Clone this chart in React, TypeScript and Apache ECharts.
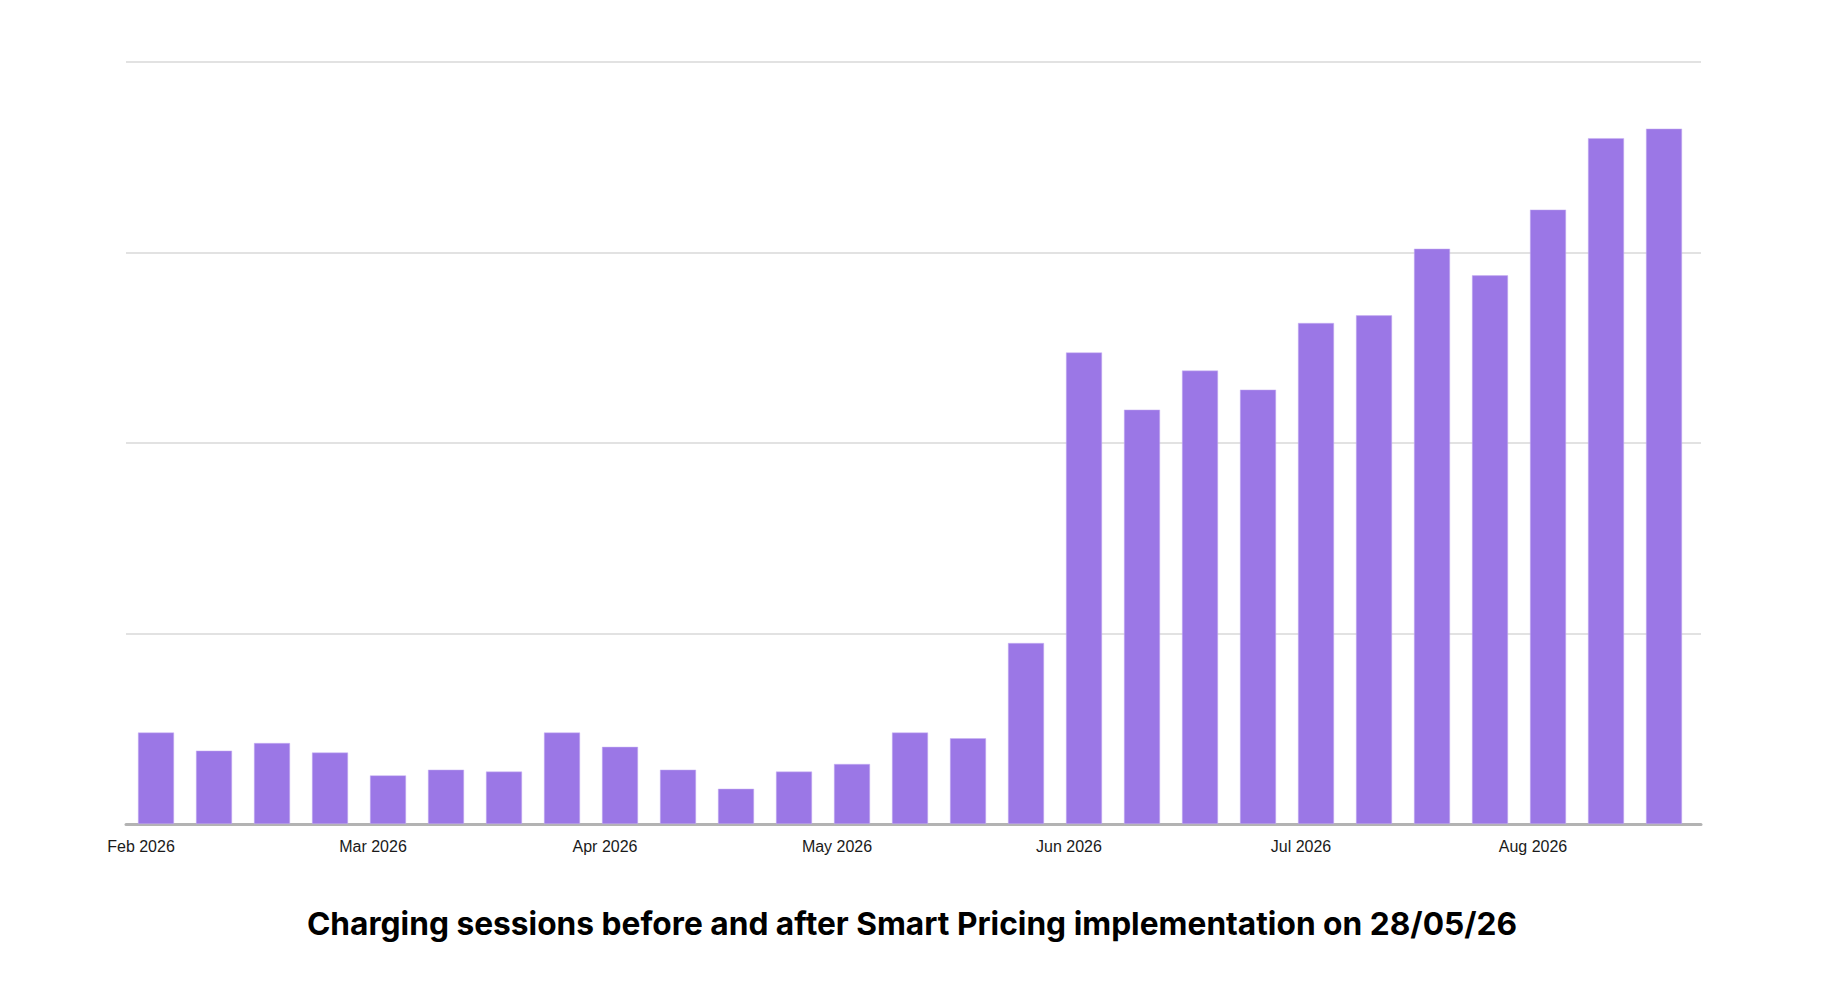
import React, { useEffect, useRef } from "react";
import * as echarts from "echarts";

const weeks = [
  "W01", "W02", "W03", "W04", "W05", "W06", "W07", "W08", "W09",
  "W10", "W11", "W12", "W13", "W14", "W15", "W16", "W17", "W18",
  "W19", "W20", "W21", "W22", "W23", "W24", "W25", "W26", "W27",
];

const sessions = [
  48, 38.5, 42.5, 37.5, 25.5, 28.5, 27.5, 48, 40.5, 28.5, 18.5, 27.5, 31.5, 48,
  45, 95, 247.5, 217.5, 238, 228, 263, 267, 302, 288, 322.5, 360, 365,
];

const monthLabels = ["Feb 2026", "Mar 2026", "Apr 2026", "May 2026", "Jun 2026", "Jul 2026", "Aug 2026"];

const titleText = "Charging sessions before and after Smart Pricing implementation on 28/05/26";

export default function App() {
  const ref = useRef<HTMLDivElement>(null);
  useEffect(() => {
    document.body.style.margin = "0";
    if (!ref.current) return;
    const chart = echarts.init(ref.current, null, { renderer: "svg" });
    chart.setOption({
      animation: false,
      backgroundColor: "#ffffff",
      title: {
        text: titleText,
        left: "center",
        top: 902,
        textStyle: {
          fontFamily: "Inter",
          fontWeight: 700,
          fontSize: 31.7,
          color: "#000000",
        },
      },
      grid: [
        { left: 126, right: 123, top: 62, bottom: 164 },
        { left: 127, right: 131, top: 62, bottom: 164 },
      ],
      xAxis: [
        {
          type: "value",
          gridIndex: 0,
          min: 0,
          max: 1,
          axisLine: { show: true, lineStyle: { color: "#b3b3b3", width: 3 } },
          axisTick: { show: false },
          axisLabel: { show: false },
          splitLine: { show: false },
        },
        {
          type: "category",
          gridIndex: 1,
          data: weeks,
          axisLine: { show: false },
          axisTick: { show: false },
          axisLabel: {
            interval: 3,
            margin: 14,
            fontFamily: "Liberation Sans",
            fontSize: 16,
            color: "#1a1a1a",
            padding: [0, 30, 0, 0],
            formatter: (_v: string, i: number) => monthLabels[Math.floor(i / 4)] ?? "",
          },
        },
      ],
      yAxis: [
        {
          type: "value",
          gridIndex: 0,
          min: 0,
          max: 400,
          interval: 100,
          axisLine: { show: false },
          axisTick: { show: false },
          axisLabel: { show: false },
          splitLine: { lineStyle: { color: "#e2e2e2", width: 2 } },
        },
        {
          type: "value",
          gridIndex: 1,
          min: 0,
          max: 400,
          interval: 100,
          axisLine: { show: false },
          axisTick: { show: false },
          axisLabel: { show: false },
          splitLine: { show: false },
        },
      ],
      series: [
        {
          type: "bar",
          xAxisIndex: 1,
          yAxisIndex: 1,
          data: sessions,
          barWidth: 36,
          z: 1,
          itemStyle: { color: "#9b77e6", borderColor: "#c9b3f2", borderWidth: 0.5 },
        },
      ],
    });
    return () => chart.dispose();
  }, []);
  return (
    <div
      ref={ref}
      style={{ position: "absolute", left: 0, top: 0, width: 1824, height: 988 }}
    />
  );
}
